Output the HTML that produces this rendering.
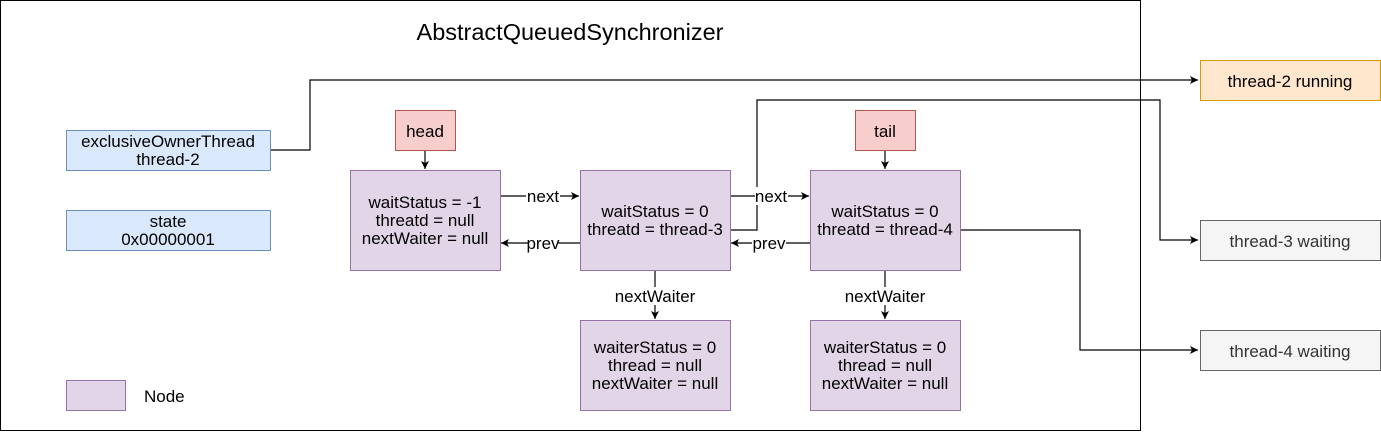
<!DOCTYPE html>
<html><head><meta charset="utf-8"><style>body{margin:0;background:#fff}</style></head><body>
<svg width="1381" height="432" xmlns="http://www.w3.org/2000/svg" font-family="Liberation Sans, sans-serif" font-size="17">
<defs><marker id="a" markerWidth="10" markerHeight="10" refX="8" refY="5" orient="auto" markerUnits="userSpaceOnUse"><path d="M0,1 L8,5 L0,9 L2,5 Z" fill="#000"/></marker></defs>
<rect x="0.5" y="0.5" width="1140" height="430" fill="#fff" stroke="#000"/>
<text x="570" y="40" font-size="23.5" text-anchor="middle">AbstractQueuedSynchronizer</text>
<g fill="none" stroke="#000" stroke-width="1.2">
<polyline points="270,150 310,150 310,80 1198,80" marker-end="url(#a)"/>
<polyline points="730,230 757,230 757,100 1160,100 1160,240 1198,240" marker-end="url(#a)"/>
<polyline points="960,230 1080,230 1080,350 1198,350" marker-end="url(#a)"/>
<line x1="425" y1="150" x2="425" y2="169" marker-end="url(#a)"/>
<line x1="885" y1="150" x2="885" y2="169" marker-end="url(#a)"/>
<line x1="500" y1="196" x2="579" y2="196" marker-end="url(#a)"/>
<line x1="730" y1="196" x2="809" y2="196" marker-end="url(#a)"/>
<line x1="580" y1="243" x2="501" y2="243" marker-end="url(#a)"/>
<line x1="810" y1="243" x2="731" y2="243" marker-end="url(#a)"/>
<line x1="655" y1="270" x2="655" y2="319" marker-end="url(#a)"/>
<line x1="885" y1="270" x2="885" y2="319" marker-end="url(#a)"/>
</g>
<g fill="#fff" stroke="none">
<rect x="526" y="187" width="34" height="18"/><rect x="755" y="187" width="33" height="18"/>
<rect x="528" y="234" width="30" height="18"/><rect x="752" y="234" width="34" height="18"/>
<rect x="612" y="287" width="88" height="18"/><rect x="842" y="287" width="88" height="18"/>
</g>
<g text-anchor="middle">
<text x="543" y="202">next</text><text x="771" y="202">next</text>
<text x="543" y="249">prev</text><text x="769" y="249">prev</text>
<text x="655" y="302">nextWaiter</text><text x="885" y="302">nextWaiter</text>
</g>
<rect x="66.5" y="130.5" width="204" height="40" fill="#dae8fc" stroke="#6c8ebf"/>
<text x="168" y="147" text-anchor="middle">exclusiveOwnerThread</text><text x="168" y="165" text-anchor="middle">thread-2</text>
<rect x="66.5" y="210.5" width="204" height="40" fill="#dae8fc" stroke="#6c8ebf"/>
<text x="168" y="227" text-anchor="middle">state</text><text x="168" y="245" text-anchor="middle">0x00000001</text>
<rect x="395.5" y="110.5" width="60" height="40" fill="#f8cecc" stroke="#b85450"/><text x="425" y="137" text-anchor="middle">head</text>
<rect x="855.5" y="110.5" width="60" height="40" fill="#f8cecc" stroke="#b85450"/><text x="885" y="137" text-anchor="middle">tail</text>
<g fill="#e1d5e7" stroke="#9673a6">
<rect x="350.5" y="170.5" width="150" height="100"/><rect x="580.5" y="170.5" width="150" height="100"/><rect x="810.5" y="170.5" width="150" height="100"/>
<rect x="580.5" y="320.5" width="150" height="90"/><rect x="810.5" y="320.5" width="150" height="90"/>
<rect x="66.5" y="380.5" width="59" height="30"/>
</g>
<g text-anchor="middle">
<text x="425" y="208">waitStatus = -1</text><text x="425" y="226">threatd = null</text><text x="425" y="244">nextWaiter = null</text>
<text x="655" y="217">waitStatus = 0</text><text x="655" y="235">threatd = thread-3</text>
<text x="885" y="217">waitStatus = 0</text><text x="885" y="235">threatd = thread-4</text>
<text x="655" y="353">waiterStatus = 0</text><text x="655" y="371">thread = null</text><text x="655" y="389">nextWaiter = null</text>
<text x="885" y="353">waiterStatus = 0</text><text x="885" y="371">thread = null</text><text x="885" y="389">nextWaiter = null</text>
</g>
<text x="144" y="402">Node</text>
<rect x="1200.5" y="60.5" width="180" height="40" fill="#ffe6cc" stroke="#d79b00"/><text x="1290" y="87" text-anchor="middle">thread-2 running</text>
<rect x="1200.5" y="220.5" width="180" height="40" fill="#f5f5f5" stroke="#666"/><text x="1290" y="247" text-anchor="middle" fill="#333">thread-3 waiting</text>
<rect x="1200.5" y="330.5" width="180" height="40" fill="#f5f5f5" stroke="#666"/><text x="1290" y="357" text-anchor="middle" fill="#333">thread-4 waiting</text>
</svg>
</body></html>
